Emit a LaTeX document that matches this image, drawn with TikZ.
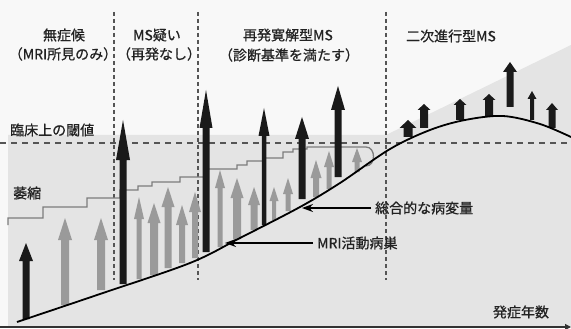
\documentclass[tikz,border=0pt]{standalone}
\usepackage{fontspec}
\setmainfont[FakeBold=0.8]{Noto Sans CJK JP}
\usetikzlibrary{arrows.meta}
\definecolor{bgtop}{HTML}{F8F8F8}
\definecolor{bgreg}{HTML}{E4E4E4}
\definecolor{inkc}{HTML}{222222}
\definecolor{darkarr}{HTML}{1A1A1A}
\definecolor{grayarr}{HTML}{9A9A9A}
\definecolor{stairc}{HTML}{7D7D7D}
\definecolor{dashc}{HTML}{555555}
% style, x, tip, bottom, shaft width, head width, head length
\newcommand\myarr[7]{%
  \fill[#1] ({#2-#5/2},#4) -- ({#2-#5/2},{#3+#7}) -- ({#2-#6/2},{#3+#7}) -- (#2,#3)
    -- ({#2+#6/2},{#3+#7}) -- ({#2+#5/2},{#3+#7}) -- ({#2+#5/2},#4) -- cycle;}
\begin{document}
\begin{tikzpicture}[x=1pt,y=-1pt,
  lbl/.style={inner sep=0pt,text=inkc,font=\fontsize{14}{16}\selectfont},
  vdash/.style={draw=dashc,line width=1.2pt,dash pattern=on 4pt off 3pt},
  hdash/.style={draw=dashc,line width=1.2pt,dash pattern=on 6pt off 5pt},
  stair/.style={draw=stairc,line width=1.3pt},
  blackarr/.style={fill=darkarr},
  grayarrow/.style={fill=grayarr},
  curve/.style={draw=black,line width=1.8pt},
  pointer/.style={draw=black,line width=1.3pt,shorten <=4pt,-{Stealth[length=11pt,width=8pt]}},
  axisline/.style={draw=black!80,line width=1.2pt,-{Triangle[length=6pt,width=6pt]}}]
\useasboundingbox (0,0) rectangle (571,329);
\fill[bgtop] (0,0) rectangle (571,329);
\fill[white] (0,327) rectangle (571,329);
\fill[bgreg] (8,135) -- (386,135) -- (571,45) -- (571,327) -- (8,327) -- cycle;
% dashed lines
\draw[hdash] (0,143) -- (568,143);
\draw[vdash] (114,12) -- (114,280);
\draw[vdash] (198,12) -- (198,280);
\draw[vdash] (386,12) -- (386,280);
% staircase (total atrophy)
\draw[stair] (8,225) -- (8,218) -- (43,218) -- (43,207) -- (87,207) -- (87,198) -- (120,198)
  -- (120,190) -- (138,190) -- (138,186) -- (152,186) -- (152,182) -- (180,182) -- (180,177)
  -- (205,177) -- (205,169) -- (237,169) -- (237,165) -- (247,165) -- (247,161) -- (263,161)
  -- (263,158) -- (283,158) -- (283,152) -- (293,152) -- (293,149) -- (307,149) -- (307,147)
  -- (366,147) .. controls (376,147) and (376,166) .. (366,166);
% gray arrows
\myarr{grayarrow}{65}{218}{305}{8}{14}{22}
\myarr{grayarrow}{101}{218}{290}{8}{14}{22}
\myarr{grayarrow}{139}{197}{279}{5}{10}{22}
\myarr{grayarrow}{154}{203}{275}{8}{13}{20}
\myarr{grayarrow}{168}{187}{268}{7}{13}{20}
\myarr{grayarrow}{182}{205}{263}{6}{12}{20}
\myarr{grayarrow}{195}{192}{258}{6}{12}{20}
\myarr{grayarrow}{220}{170}{247}{5}{10}{18}
\myarr{grayarrow}{237}{178}{239}{8}{13}{20}
\myarr{grayarrow}{254}{187}{230}{7}{12}{18}
\myarr{grayarrow}{274}{187}{220}{4}{9}{14}
\myarr{grayarrow}{288}{178}{211}{5}{10}{16}
\myarr{grayarrow}{316}{160}{197}{6}{11}{18}
\myarr{grayarrow}{329}{151}{189}{5}{10}{16}
\myarr{grayarrow}{357}{148}{172}{5}{10}{14}
% black arrows
\myarr{blackarr}{26}{243}{319}{7}{14}{18}
\myarr{blackarr}{123}{120}{284}{7}{14}{40}
\myarr{blackarr}{206}{90}{252}{7}{13}{38}
\myarr{blackarr}{264}{108}{225}{4.5}{11}{28}
\myarr{blackarr}{302}{117}{199}{7}{14}{22}
\myarr{blackarr}{338}{86}{177}{7}{14}{24}
% secondary progressive arrows
\myarr{blackarr}{408}{120}{137}{9}{17}{8}
\myarr{blackarr}{424}{104}{128}{8}{13}{6}
\myarr{blackarr}{460}{99}{120}{8}{13}{6}
\myarr{blackarr}{489}{94}{117}{8}{13}{6}
\myarr{blackarr}{510}{62}{107}{7}{14}{10}
\myarr{blackarr}{532}{91}{120}{4}{9}{8}
\myarr{blackarr}{552}{103}{128}{7}{12}{7}
% lesion load curve
\draw[curve] plot[smooth,tension=0.55] coordinates {(17,322) (100,294) (190,263) (240,238)
  (300,207) (340,183) (390,149) (430,130) (465,120) (503,116) (540,124) (571,137)};
% axis
\coordinate (ax0) at (0,327);
\coordinate (ax1) at (571,327);
\draw[axisline] (ax0) -- (ax1);
% labels
\node[lbl] (h1a) at (64,35) {無症候};
\node[lbl] (h1b) at (63,54) {（MRI所見のみ）};
\node[lbl] (h2a) at (157,35) {MS疑い};
\node[lbl] (h2b) at (159,54) {（再発なし）};
\node[lbl] (h3a) at (288,35) {再発寛解型MS};
\node[lbl] (h3b) at (289,55) {（診断基準を満たす）};
\node[lbl] (h4a) at (451,36) {二次進行型MS};
\node[lbl,anchor=west] (thr) at (10,130) {臨床上の閾値};
\node[lbl,anchor=west] (atr) at (13,193) {萎縮};
\node[lbl] (yrs) at (521,312) {発症年数};
\node[lbl,anchor=west] (tot) at (375,208) {総合的な病変量};
\node[lbl,anchor=west] (mri) at (317,243) {MRI活動病巣};
\coordinate (c1) at (302,208);
\coordinate (c2) at (225,243);
\draw[pointer] (tot.west) -- (c1);
\draw[pointer] (mri.west) -- (c2);
\end{tikzpicture}
\end{document}
